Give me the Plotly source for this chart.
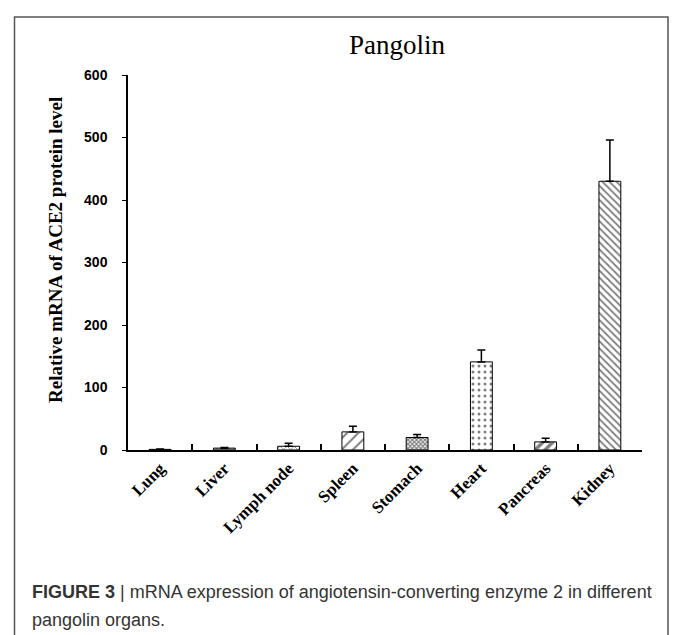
import plotly.graph_objects as go

organs = ["Lung", "Liver", "Lymph node", "Spleen", "Stomach", "Heart", "Pancreas", "Kidney"]
values = [1, 3, 6, 29, 20, 141, 13, 430]
errors = [0.5, 1, 5, 9, 5, 19, 6, 66]
y_ticks = [0, 100, 200, 300, 400, 500, 600]

pattern_shapes = [".", "x", "x", "/", "x", ".", "/", "\\"]
pattern_sizes = [4, 3, 5, 8, 3, 6, 7, 5]
pattern_solidity = [0.3, 0.5, 0.3, 0.25, 0.65, 0.2, 0.5, 0.35]

W, H = 673, 635
L, R, T, B = 128, 31, 75, 185
PW, PH = W - L - R, H - T - B


def px(x):
    return (x - L) / PW


def py(y):
    return (T + PH - y) / PH


fig = go.Figure()
fig.add_trace(go.Bar(
    x=organs,
    y=values,
    width=0.34,
    marker=dict(
        color="white",
        line=dict(color="black", width=1),
        pattern=dict(shape=pattern_shapes, size=pattern_sizes,
                     solidity=pattern_solidity, fgcolor="black", bgcolor="white"),
    ),
    error_y=dict(type="data", array=errors, arrayminus=[0] * len(errors),
                 symmetric=False, color="black", thickness=1.5, width=4),
    showlegend=False,
))

fig.update_layout(
    width=W, height=H,
    margin=dict(l=L, r=R, t=T, b=B),
    paper_bgcolor="white", plot_bgcolor="white",
    xaxis=dict(
        showline=True, linecolor="black", linewidth=1.5,
        ticks="inside", ticklen=6, tickwidth=1.5, tickcolor="black",
        tickson="boundaries", tickangle=-45,
        tickfont=dict(family="Liberation Serif", size=17, color="black", weight="bold"),
        showgrid=False,
    ),
    yaxis=dict(
        range=[0, 600], tickvals=y_ticks,
        showline=True, linecolor="black", linewidth=1.5,
        ticks="outside", ticklen=4, tickwidth=1, tickcolor="black",
        tickfont=dict(family="Liberation Sans", size=14, color="black", weight="bold"),
        showgrid=False, zeroline=False, ticklabelstandoff=12,
    ),
    annotations=[
        dict(text="Pangolin", x=px(397), y=py(45), xref="paper", yref="paper",
             showarrow=False, xanchor="center", yanchor="middle",
             font=dict(family="Liberation Serif", size=27, color="black")),
        dict(text="Relative mRNA of ACE2 protein level", x=px(55), y=py(250),
             xref="paper", yref="paper", showarrow=False, textangle=-90,
             xanchor="center", yanchor="middle",
             font=dict(family="Liberation Serif", size=19, color="black", weight="bold")),
        dict(text="<b>FIGURE 3</b> | mRNA expression of angiotensin-converting enzyme 2 in different",
             x=px(30), y=py(592), xref="paper", yref="paper", showarrow=False,
             xanchor="left", yanchor="middle", align="left",
             font=dict(family="Liberation Sans", size=18, color="#333333")),
        dict(text="pangolin organs.",
             x=px(30), y=py(620), xref="paper", yref="paper", showarrow=False,
             xanchor="left", yanchor="middle", align="left",
             font=dict(family="Liberation Sans", size=18, color="#333333")),
    ],
    shapes=[
        dict(type="rect", xref="paper", yref="paper",
             x0=px(14.5), x1=px(668), y0=py(645), y1=py(17),
             line=dict(color="#555555", width=1.5), fillcolor="rgba(0,0,0,0)", layer="below"),
    ],
)

fig.write_html("out.html",
               config={"displayModeBar": False},
               post_script="document.body.style.margin='0';document.body.style.padding='0';"
                           "document.documentElement.style.overflow='hidden';")
